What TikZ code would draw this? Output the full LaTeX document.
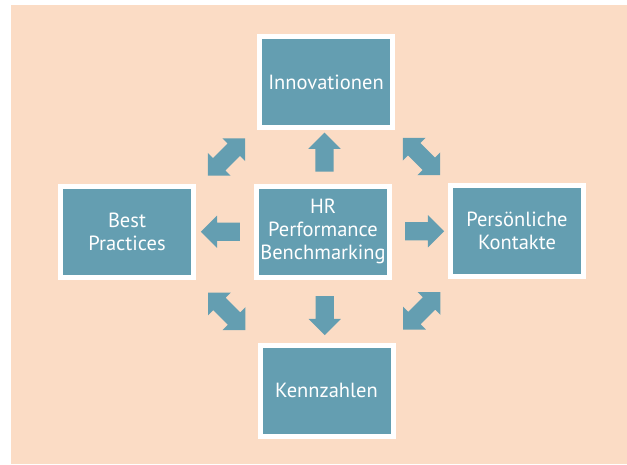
\documentclass[tikz,border=0pt]{standalone}
\usepackage{fontspec}
\setmainfont{PT Sans}
\usetikzlibrary{shapes.arrows}
\definecolor{boxblue}{RGB}{100,158,177}
\definecolor{peach}{RGB}{251,220,197}

\begin{document}
\begin{tikzpicture}
  [x=0.03cm,y=-0.03cm,
   box/.style={rectangle,fill=boxblue,draw=white,line width=0.15cm,text=white,align=center,
     minimum width=3.99cm,minimum height=2.73cm,font=\fontsize{17.5}{19.5}\selectfont},
   fatarrow/.style={single arrow,fill=boxblue,inner xsep=0pt,inner ysep=0.27cm,
     minimum height=1.17cm,single arrow head extend=0.21cm},
   dblarrow/.style={double arrow,fill=boxblue,inner xsep=0pt,inner ysep=0.255cm,
     minimum height=1.59cm,double arrow head extend=0.225cm}]
  \useasboundingbox (0,0) rectangle (627,464);
  \fill[peach] (11,5) rectangle (627,464);

  \node[box] (inno) at (326,82)    {Innovationen};
  \node[box] (hr)   at (323,231.5) {HR\\Performance\\Benchmarking};
  \node[box] (bp)   at (127,232)   {Best\\Practices};
  \node[box] (pk)   at (517,231)   {Persönliche\\Kontakte};
  \node[box] (kz)   at (326.5,390.5) {Kennzahlen};

  \foreach \from/\to/\ang in {hr/inno/90,hr/kz/-90,hr/bp/180,hr/pk/0}
    \path (\from) -- node[fatarrow,rotate=\ang] (a-\to) {} (\to);

  \foreach \from/\to/\ang in {bp.north east/inno.south west/45,inno.south east/pk.north west/-45,
                              bp.south east/kz.north west/-45,kz.north east/pk.south west/45}
    \path (\from) -- node[dblarrow,rotate=\ang] {} (\to);

\end{tikzpicture}
\end{document}
